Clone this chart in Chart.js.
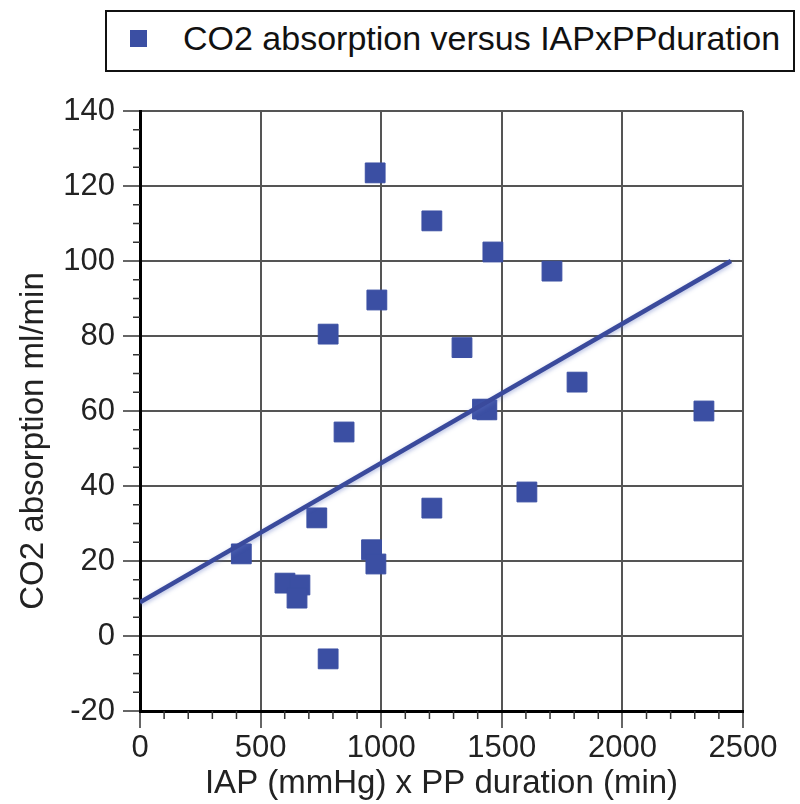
<!DOCTYPE html>
<html>
<head>
<meta charset="utf-8">
<title>CO2 absorption versus IAPxPPduration</title>
<script src="https://cdn.jsdelivr.net/npm/chart.js@4.4.0/dist/chart.umd.min.js"></script>
<style>
  html, body { margin: 0; padding: 0; background: #fff; }
  #wrap { position: relative; width: 800px; height: 804px; }
  #legend {
    position: absolute; left: 105px; top: 10px; width: 690px; height: 62px;
    box-sizing: border-box; border: 2px solid #111; background: #fff;
    font-family: 'Liberation Sans', Arial, sans-serif; font-size: 34px; color: #111;
  }
  #legend .mark { position: absolute; left: 23px; top: 18px; width: 17px; height: 17px; background: #3b4fa3; }
  #legend .label { position: absolute; left: 76px; top: 7px; white-space: nowrap; }
</style>
</head>
<body>
<div id="wrap">
  <canvas id="co2Chart" width="800" height="804"></canvas>
  <div id="legend"><span class="mark"></span><span class="label">CO2 absorption versus IAPxPPduration</span></div>
</div>
<script>
// measured points: IAP x PP duration (mmHg*min) vs CO2 absorption (ml/min)
const iapDuration = [975, 1210, 1463, 1708, 982, 780, 1335, 1812, 1420, 1438, 2338,
                     846, 1604, 1210, 733, 420, 960, 978, 601, 663, 651, 780];
const co2Absorption = [123.5, 110.7, 102.4, 97.3, 89.6, 80.5, 76.9, 67.7, 60.5, 60.3, 60,
                       54.4, 38.4, 34.1, 31.5, 21.9, 23, 19.2, 14.1, 13.6, 10.1, -6.1];

// regression line end points
const fitX = [0, 2450];
const fitY = [9, 100];

const xTickValues = [0, 500, 1000, 1500, 2000, 2500];
const yTickValues = [-20, 0, 20, 40, 60, 80, 100, 120, 140];

const xTitle = 'IAP (mmHg) x PP duration (min)';
const yTitle = 'CO2 absorption ml/min';

const blue = '#3b4fa3';
const lineBlue = '#3a4a9c';
const font = "'Liberation Sans', Arial, sans-serif";

// small tick marks between the labelled ones, plus the y axis title
const axisExtras = {
    id: 'axisExtras',
    afterDraw(chart) {
        const ctx = chart.ctx;
        const area = chart.chartArea;
        const xs = chart.scales.x;
        const ys = chart.scales.y;
        ctx.save();
        ctx.strokeStyle = '#333';
        ctx.lineWidth = 1.5;
        ctx.beginPath();
        for (let v = xs.min; v <= xs.max; v += 100) {
            if (v % 500 === 0) continue;
            const px = xs.getPixelForValue(v);
            ctx.moveTo(px, area.bottom);
            ctx.lineTo(px, area.bottom + 8);
        }
        for (let v = ys.min; v <= ys.max; v += 5) {
            if (v % 20 === 0) continue;
            const py = ys.getPixelForValue(v);
            ctx.moveTo(area.left - 7, py);
            ctx.lineTo(area.left, py);
        }
        ctx.stroke();

        // y title sits a bit below the middle of the axis in the original
        ctx.translate(34, (area.top + area.bottom) / 2 + 30);
        ctx.rotate(-Math.PI / 2);
        ctx.font = '33px ' + font;
        ctx.fillStyle = '#222';
        ctx.textAlign = 'center';
        ctx.textBaseline = 'middle';
        ctx.fillText(yTitle, 0, 0);
        ctx.restore();
    },
    beforeDatasetDraw(chart, args) {
        if (args.index !== 0) return;
        const ctx = chart.ctx;
        ctx.save();
        ctx.shadowColor = 'rgba(90, 110, 190, 0.45)';
        ctx.shadowBlur = 4;
        ctx.shadowOffsetY = 2;
    },
    afterDatasetDraw(chart, args) {
        if (args.index !== 0) return;
        chart.ctx.restore();
    }
};

const plainNumber = value => String(value);

const ctx = document.getElementById('co2Chart').getContext('2d');
new Chart(ctx, {
    data: {
        datasets: [
            {
                type: 'line',
                label: 'fit',
                data: fitX.map((x, i) => ({ x: x, y: fitY[i] })),
                borderColor: lineBlue,
                borderWidth: 4.5,
                pointRadius: 0,
                fill: false,
                order: 0
            },
            {
                type: 'scatter',
                label: 'CO2 absorption versus IAPxPPduration',
                data: iapDuration.map((x, i) => ({ x: x, y: co2Absorption[i] })),
                pointStyle: 'rect',
                pointRadius: 14,
                backgroundColor: blue,
                borderColor: blue,
                borderWidth: 1,
                order: 1
            }
        ]
    },
    options: {
        responsive: false,
        animation: false,
        layout: { padding: { left: 10, top: 111, right: 57, bottom: 0 } },
        plugins: {
            legend: { display: false },
            tooltip: { enabled: false }
        },
        scales: {
            x: {
                type: 'linear',
                position: 'bottom',
                min: 0,
                max: 2500,
                afterBuildTicks: scale => { scale.ticks = xTickValues.map(v => ({ value: v })); },
                afterFit: scale => { scale.height = 93; },
                ticks: { font: { family: font, size: 31 }, color: '#222', padding: 2, callback: plainNumber },
                grid: { color: '#555', lineWidth: 2, tickLength: 17, tickColor: '#333', tickWidth: 1.5 },
                border: { color: '#000', width: 3 },
                title: {
                    display: true,
                    text: xTitle,
                    font: { family: font, size: 33 },
                    color: '#222',
                    padding: { top: 3, bottom: 0 }
                }
            },
            y: {
                type: 'linear',
                min: -20,
                max: 140,
                afterBuildTicks: scale => { scale.ticks = yTickValues.map(v => ({ value: v })); },
                afterFit: scale => { scale.width = 130; },
                ticks: { font: { family: font, size: 31 }, color: '#222', padding: 8, callback: plainNumber },
                grid: { color: '#555', lineWidth: 2, tickLength: 17, tickColor: '#333', tickWidth: 1.5 },
                border: { color: '#000', width: 3 },
                title: { display: false, text: yTitle }
            }
        }
    },
    plugins: [axisExtras]
});
</script>
</body>
</html>
